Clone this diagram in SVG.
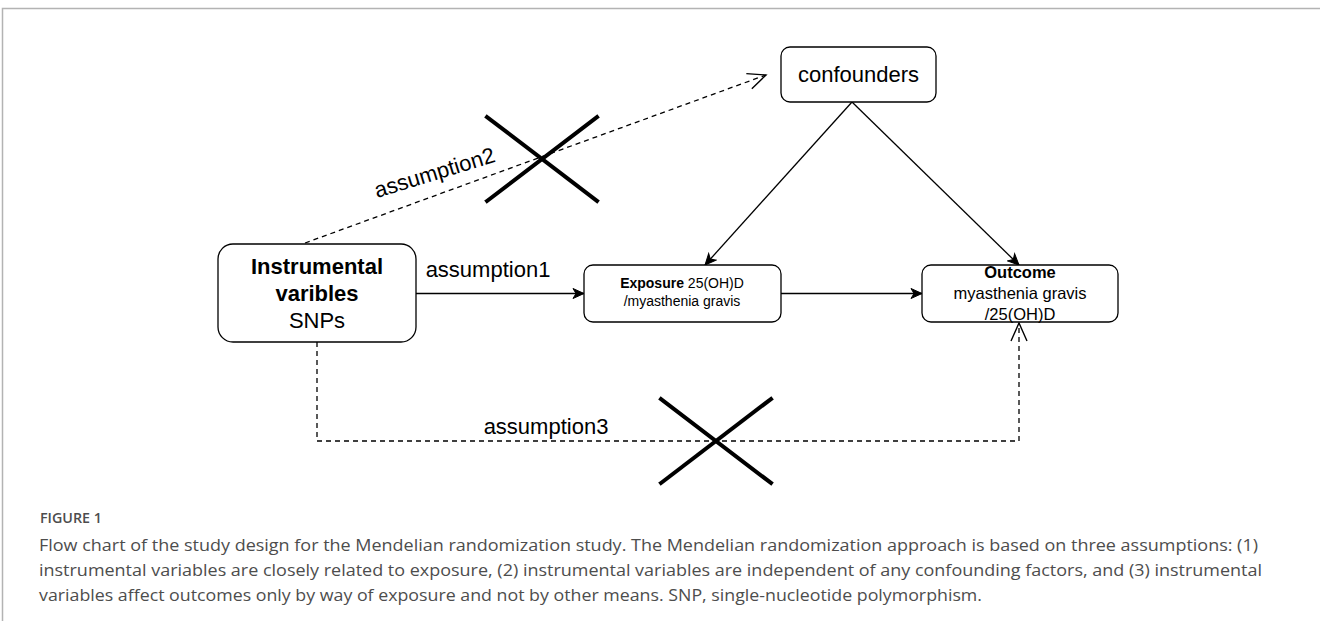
<svg xmlns="http://www.w3.org/2000/svg" width="1320" height="621" viewBox="0 0 1320 621">
<style>
.box{fill:#fff;stroke:#000;stroke-width:1.3}
.t{font-family:"Liberation Sans",Arial,sans-serif;fill:#000;text-anchor:middle}
.b{font-weight:bold}
.ln{fill:none;stroke:#000;stroke-width:1.3}
.dash{fill:none;stroke:#000;stroke-width:1.3;stroke-dasharray:5 4}
.x{stroke:#000;stroke-width:4;stroke-linecap:square}
.cap{font-family:"Open Sans","Noto Sans",sans-serif;fill:#4d4d4d}
</style>
<defs>
<marker id="fill" markerUnits="userSpaceOnUse" viewBox="-12 -6 13 12" refX="0" refY="0" markerWidth="13" markerHeight="12" orient="auto">
<path d="M0,0 L-11,-5 L-8,0 L-11,5 Z" fill="#000" stroke="#000" stroke-width="1"/>
</marker>
<marker id="open" markerUnits="userSpaceOnUse" viewBox="-20 -11 22 22" refX="0" refY="0" markerWidth="22" markerHeight="22" orient="auto">
<path d="M-18,-8 L0,0 L-18,8" fill="none" stroke="#000" stroke-width="1.4"/>
</marker>
</defs>
<rect width="1320" height="621" fill="#fff"/>
<g id="frame">
<path d="M2.5,621 V8.5 H1320" fill="none" stroke="#b3b3b3" stroke-width="1.5"/>
</g>
<g id="connectors">
<line class="dash" x1="305" y1="243" x2="766" y2="75" marker-end="url(#open)"/>
<line class="ln" x1="416" y1="293.5" x2="584" y2="293.5" marker-end="url(#fill)"/>
<line class="ln" x1="781" y1="293.5" x2="922" y2="293.5" marker-end="url(#fill)"/>
<line class="ln" x1="852" y1="102" x2="705" y2="265" marker-end="url(#fill)"/>
<line class="ln" x1="852" y1="102" x2="1019" y2="265" marker-end="url(#fill)"/>
<polyline class="dash" points="317,342 317,441 1019,441 1019,323" marker-end="url(#open)"/>
<text class="t" x="488" y="277" font-size="22">assumption1</text>
<text class="t" x="435" y="180" font-size="22" transform="rotate(-17 435 174)">assumption2</text>
<text class="t" x="546" y="434" font-size="22">assumption3</text>
<g id="cross1">
<line class="x" x1="487" y1="117" x2="597" y2="201"/>
<line class="x" x1="487" y1="201" x2="597" y2="117"/>
</g>
<g id="cross2">
<line class="x" x1="661" y1="399" x2="771" y2="483"/>
<line class="x" x1="661" y1="483" x2="771" y2="399"/>
</g>
</g>
<g id="confounders">
<rect class="box" x="781" y="47" width="155" height="55" rx="9"/>
<text class="t" x="858.5" y="82" font-size="22">confounders</text>
</g>
<g id="instrumental">
<rect class="box" x="218" y="244" width="198" height="98" rx="15"/>
<text class="t b" x="317" y="274" font-size="22">Instrumental</text>
<text class="t b" x="317" y="301" font-size="22">varibles</text>
<text class="t" x="317" y="328" font-size="22">SNPs</text>
</g>
<g id="exposure">
<rect class="box" x="584" y="265" width="197" height="57" rx="9"/>
<text class="t" x="682" y="288" font-size="14"><tspan class="b">Exposure</tspan> 25(OH)D</text>
<text class="t" x="682" y="306" font-size="14">/myasthenia gravis</text>
</g>
<g id="outcome">
<rect class="box" x="922" y="265" width="196" height="57" rx="9"/>
<text class="t b" x="1020" y="278" font-size="16.5">Outcome</text>
<text class="t" x="1020" y="299" font-size="16.5">myasthenia gravis</text>
<text class="t" x="1020" y="320" font-size="16.5">/25(OH)D</text>
</g>
<g id="caption">
<text class="cap" x="40" y="523" font-size="13.5" font-weight="600" textLength="62" lengthAdjust="spacingAndGlyphs">FIGURE 1</text>
<text class="cap" x="39" y="551" font-size="16.5" textLength="1219" lengthAdjust="spacingAndGlyphs">Flow chart of the study design for the Mendelian randomization study. The Mendelian randomization approach is based on three assumptions: (1)</text>
<text class="cap" x="39" y="576" font-size="16.5" textLength="1223" lengthAdjust="spacingAndGlyphs">instrumental variables are closely related to exposure, (2) instrumental variables are independent of any confounding factors, and (3) instrumental</text>
<text class="cap" x="39" y="601" font-size="16.5" textLength="943" lengthAdjust="spacingAndGlyphs">variables affect outcomes only by way of exposure and not by other means. SNP, single-nucleotide polymorphism.</text>
</g>
</svg>
